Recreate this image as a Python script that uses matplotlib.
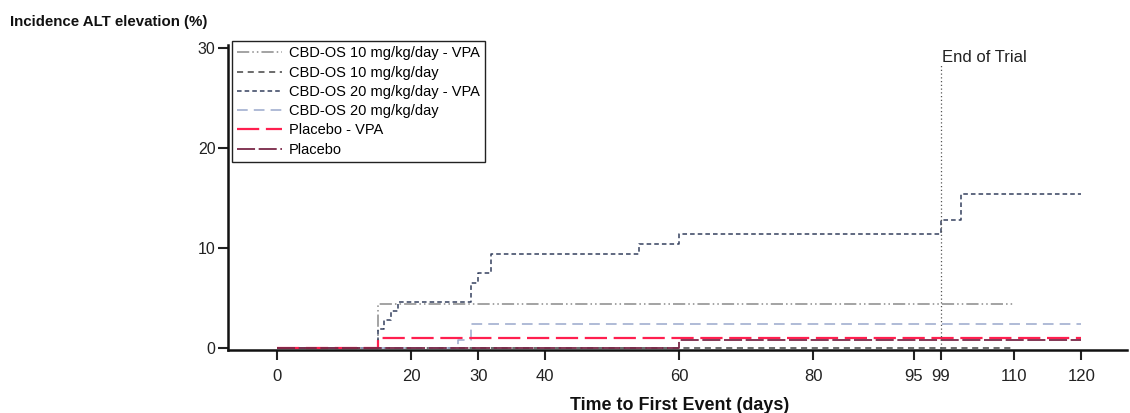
import matplotlib.pyplot as plt

plt.rcParams['font.family'] = ['Liberation Sans', 'DejaVu Sans']

# Kaplan-Meier style cumulative incidence (step, post)
t_cbd10_vpa = [0, 15, 110]
y_cbd10_vpa = [0, 4.4, 4.4]
t_cbd10 = [0, 110]
y_cbd10 = [0, 0]
t_cbd20_vpa = [0, 15, 16, 17, 18, 29, 30, 32, 54, 60, 99, 102, 120]
y_cbd20_vpa = [0, 1.9, 2.8, 3.7, 4.6, 6.5, 7.5, 9.4, 10.4, 11.4, 12.8, 15.4, 15.4]
t_cbd20 = [0, 27, 29, 120]
y_cbd20 = [0, 0.8, 2.4, 2.4]
t_pbo_vpa = [0, 15, 120]
y_pbo_vpa = [0, 1.0, 1.0]
t_pbo = [0, 60, 120]
y_pbo = [0, 0.8, 0.8]

x_ticks = [0, 20, 30, 40, 60, 80, 95, 99, 110, 120]
y_ticks = [0, 10, 20, 30]
end_of_trial = 99

fig = plt.figure(figsize=(11.3, 4.13), dpi=100)
ax = fig.add_axes([0.2018, 0.1525, 0.7955, 0.7385])

ax.step(t_cbd10_vpa, y_cbd10_vpa, where='post', color='#8a8a8a', lw=1.1,
        dashes=[8, 2, 1, 2, 1, 2], label='CBD-OS 10 mg/kg/day - VPA')
ax.step(t_cbd10, y_cbd10, where='post', color='#444444', lw=1.1,
        dashes=[4, 3], label='CBD-OS 10 mg/kg/day')
ax.step(t_cbd20_vpa, y_cbd20_vpa, where='post', color='#34405e', lw=1.1,
        dashes=[3, 2], label='CBD-OS 20 mg/kg/day - VPA')
ax.step(t_cbd20, y_cbd20, where='post', color='#9aa8cc', lw=1.1,
        dashes=[7, 4], label='CBD-OS 20 mg/kg/day')
ax.step(t_pbo_vpa, y_pbo_vpa, where='post', color='#ff1f4f', lw=1.6,
        dashes=[10, 3], label='Placebo - VPA')
ax.step(t_pbo, y_pbo, where='post', color='#7a2848', lw=1.3,
        dashes=[10, 2], label='Placebo')

ax.plot([end_of_trial, end_of_trial], [0, 28.3], color='#555555', lw=0.9,
        linestyle=(0, (1, 2)))
ax.text(end_of_trial + 0.2, 28.6, 'End of Trial', fontsize=12, va='baseline',
        ha='left', color='#222222')

ax.set_xlim(-7.3, 126.8)
ax.set_ylim(-0.2, 30.3)
ax.set_xticks(x_ticks)
ax.set_yticks(y_ticks)
ax.tick_params(axis='x', labelsize=12, length=7, width=1.5, pad=7, colors='#222222')
ax.tick_params(axis='y', labelsize=11.5, length=7, width=1.5, pad=2, colors='#222222')
for s in ['top', 'right']:
    ax.spines[s].set_visible(False)
for s in ['left', 'bottom']:
    ax.spines[s].set_linewidth(1.8)
    ax.spines[s].set_color('#111111')

leg = ax.legend(loc='upper left', bbox_to_anchor=(0.004, 1.012), borderaxespad=0,
                fontsize=10.5, handlelength=3.1, handletextpad=0.5,
                labelspacing=0.36, fancybox=False, framealpha=1,
                edgecolor='#222222', borderpad=0.35)
leg.get_frame().set_linewidth(1.0)

fig.text(0.009, 0.946, 'Incidence ALT elevation (%)', fontsize=10.8,
         fontweight='bold', va='center', ha='left', color='#111111')
fig.text(0.601, 0.019, 'Time to First Event (days)', fontsize=12.9,
         fontweight='bold', va='center', ha='center', color='#111111')

fig.savefig('out.png', dpi=100)
